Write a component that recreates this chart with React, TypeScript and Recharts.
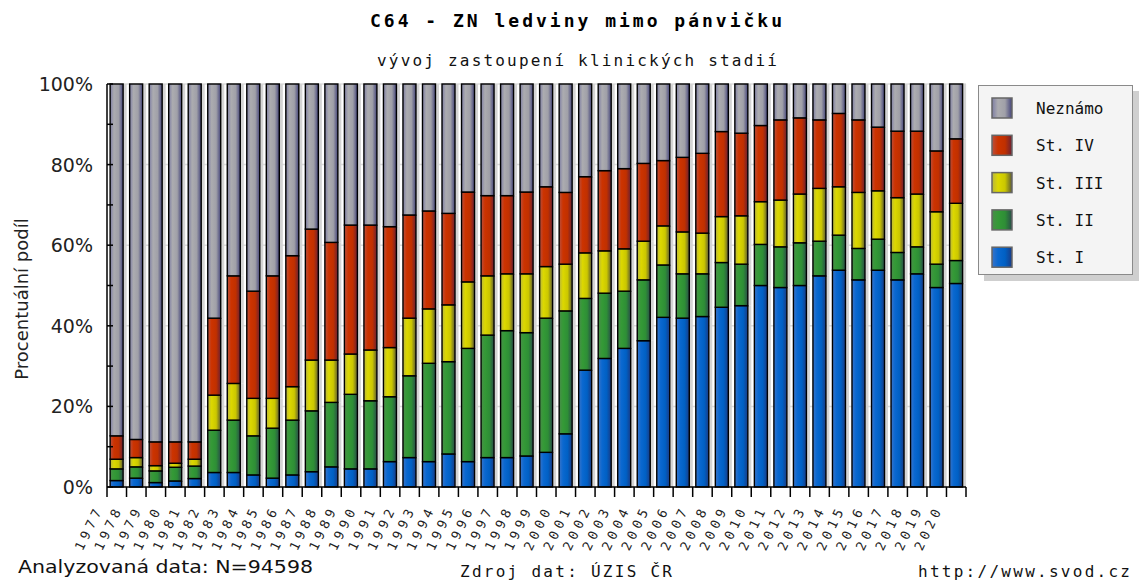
import React from 'react'
import { BarChart, Bar, XAxis, YAxis, CartesianGrid } from 'recharts'

const YEARS = [
  '1977', '1978', '1979', '1980', '1981', '1982', '1983', '1984', '1985', '1986', '1987',
  '1988', '1989', '1990', '1991', '1992', '1993', '1994', '1995', '1996', '1997', '1998',
  '1999', '2000', '2001', '2002', '2003', '2004', '2005', '2006', '2007', '2008', '2009',
  '2010', '2011', '2012', '2013', '2014', '2015', '2016', '2017', '2018', '2019', '2020'
]

const ST_I = [
  1.6, 2.2, 1.1, 1.5, 2.1, 3.6, 3.6, 3.0, 2.2, 3.0, 3.8,
  5.0, 4.5, 4.5, 6.3, 7.3, 6.3, 8.2, 6.3, 7.3, 7.3, 7.7,
  8.6, 13.2, 29.0, 31.9, 34.4, 36.3, 42.1, 41.9, 42.3, 44.6, 45.0,
  50.0, 49.5, 50.0, 52.4, 53.8, 51.4, 53.8, 51.4, 52.9, 49.5, 50.5
]
const ST_II = [
  2.9, 2.8, 2.9, 3.4, 3.1, 10.5, 13.0, 9.7, 12.4, 13.6, 15.1,
  16.0, 18.5, 16.9, 16.1, 20.3, 24.4, 22.9, 28.1, 30.4, 31.5, 30.6,
  33.3, 30.5, 17.8, 16.2, 14.2, 15.1, 13.0, 11.0, 10.6, 11.1, 10.3,
  10.2, 10.1, 10.6, 8.6, 8.7, 7.8, 7.7, 6.8, 6.7, 5.8, 5.7
]
const ST_III = [
  2.4, 2.3, 1.3, 1.0, 1.7, 8.7, 9.1, 9.3, 7.4, 8.3, 12.6,
  10.5, 10.0, 12.6, 12.2, 14.3, 13.5, 14.1, 16.5, 14.7, 14.1, 14.6,
  12.8, 11.6, 11.3, 10.5, 10.5, 9.6, 9.7, 10.4, 10.1, 11.4, 12.0,
  10.6, 11.6, 12.1, 13.1, 12.0, 13.9, 12.0, 13.6, 13.1, 13.0, 14.2
]
const ST_IV = [
  5.8, 4.5, 5.9, 5.3, 4.3, 19.1, 26.7, 26.6, 30.4, 32.5, 32.5,
  29.2, 32.0, 31.0, 30.0, 25.6, 24.3, 22.7, 22.3, 19.9, 19.4, 20.3,
  19.8, 17.8, 18.9, 19.9, 19.9, 19.3, 16.2, 18.5, 19.8, 21.1, 20.5,
  18.9, 19.9, 18.9, 17.0, 18.2, 18.0, 15.8, 16.5, 15.6, 15.1, 16.0
]
const NEZNAMO = [
  87.3, 88.2, 88.8, 88.8, 88.8, 58.1, 47.6, 51.4, 47.6, 42.6, 36.0,
  39.3, 35.0, 35.0, 35.4, 32.5, 31.5, 32.1, 26.8, 27.7, 27.7, 26.8,
  25.5, 26.9, 23.0, 21.5, 21.0, 19.7, 19.0, 18.2, 17.2, 11.8, 12.2,
  10.3, 8.9, 8.4, 8.9, 7.3, 8.9, 10.7, 11.7, 11.7, 16.6, 13.6
]

const Y_TICKS = [0, 10, 20, 30, 40, 50, 60, 70, 80, 90, 100]
const GRID = [20, 40, 60, 80, 100]

const SERIES = [
  { key: 'st1', name: 'St. I', grad: 'gBlue', stops: ['#3a74c8', '#0a68d0', '#0060c4', '#1a3a84'] },
  { key: 'st2', name: 'St. II', grad: 'gGreen', stops: ['#4a8c4a', '#349a36', '#2e8e36', '#2a4c4a'] },
  { key: 'st3', name: 'St. III', grad: 'gYellow', stops: ['#b8b640', '#dcd800', '#cbc700', '#5c5a34'] },
  { key: 'st4', name: 'St. IV', grad: 'gRed', stops: ['#b85040', '#cc3300', '#c03000', '#6a2034'] },
  { key: 'unk', name: 'Neznámo', grad: 'gGray', stops: ['#7e7ea4', '#acacb0', '#a0a0a8', '#44447a'] }
]

const data = YEARS.map((year, i) => ({
  year,
  st1: ST_I[i],
  st2: ST_II[i],
  st3: ST_III[i],
  st4: ST_IV[i],
  unk: NEZNAMO[i]
}))

const PLOT_LEFT = 107
const PLOT_RIGHT = 966
const PLOT_BOTTOM = 487
const HALF_SLOT = (PLOT_RIGHT - PLOT_LEFT) / YEARS.length / 2

const mono = '"DejaVu Sans Mono", monospace'
const sans = '"DejaVu Sans", Verdana, sans-serif'

const BarShape = (props: any) => {
  const { x, y, width, height, fill } = props
  if (!height || height <= 0) return null
  return (
    <g>
      <rect x={x + width + 0.5} y={y} width={3} height={height} fill="#d4d4d4" />
      <rect x={x} y={y} width={width} height={height} fill={fill} stroke="#000" strokeWidth={1.4} />
    </g>
  )
}

const YTick = (props: any) => {
  const { y, payload } = props
  const v = payload.value
  const major = v % 20 === 0
  return (
    <g>
      <line x1={PLOT_LEFT} x2={PLOT_LEFT + 6} y1={y} y2={y} stroke="#000" strokeWidth={1.5} />
      {major && (
        <text x={93} y={y + 7} textAnchor="end" fontSize={19} fontFamily={sans} fill="#222">
          {v}%
        </text>
      )}
    </g>
  )
}

const XTick = (props: any) => {
  const { x, payload, index } = props
  const tx = x - 15
  const ty = 512
  return (
    <g>
      <line x1={x - HALF_SLOT} x2={x - HALF_SLOT} y1={PLOT_BOTTOM} y2={PLOT_BOTTOM + 10} stroke="#000" strokeWidth={1.5} />
      {index === YEARS.length - 1 && (
        <line x1={x + HALF_SLOT} x2={x + HALF_SLOT} y1={PLOT_BOTTOM} y2={PLOT_BOTTOM + 10} stroke="#000" strokeWidth={1.5} />
      )}
      <text
        transform={`translate(${tx},${ty}) rotate(-64)`}
        textAnchor="end"
        fontSize={13}
        fontFamily={mono}
        fill="#222"
        textLength={44}
        lengthAdjust="spacing"
      >
        {payload.value}
      </text>
    </g>
  )
}

const LEGEND_ORDER = ['unk', 'st4', 'st3', 'st2', 'st1']

export default function App() {
  return (
    <div style={{ position: 'relative', width: 1139, height: 582, background: '#fff' }}>
      <style>{'body{margin:0}'}</style>
      <BarChart
        width={1139}
        height={582}
        data={data}
        margin={{ top: 84, right: 173, bottom: 0, left: 0 }}
        barCategoryGap="16%"
      >
        <defs>
          {SERIES.map(s => (
            <linearGradient key={s.grad} id={s.grad} x1="0" y1="0" x2="1" y2="0">
              <stop offset="0" stopColor={s.stops[0]} />
              <stop offset="0.3" stopColor={s.stops[1]} />
              <stop offset="0.65" stopColor={s.stops[2]} />
              <stop offset="1" stopColor={s.stops[3]} />
            </linearGradient>
          ))}
        </defs>
        <CartesianGrid vertical={false} horizontalValues={GRID} stroke="#dcdcdc" strokeWidth={1.5} />
        <XAxis
          dataKey="year"
          interval={0}
          height={95}
          tickLine={false}
          axisLine={{ stroke: '#000', strokeWidth: 1.5 }}
          tick={<XTick />}
        />
        <YAxis
          type="number"
          domain={[0, 100]}
          ticks={Y_TICKS}
          width={107}
          tickLine={false}
          tickSize={0}
          axisLine={{ stroke: '#000', strokeWidth: 1.5 }}
          tick={<YTick />}
        />
        {SERIES.map(s => (
          <Bar
            key={s.key}
            dataKey={s.key}
            name={s.name}
            stackId="a"
            fill={`url(#${s.grad})`}
            shape={<BarShape />}
            isAnimationActive={false}
          />
        ))}
      </BarChart>

      <svg
        width={1139}
        height={582}
        style={{ position: 'absolute', left: 0, top: 0, pointerEvents: 'none' }}
      >
        <text x={576} y={27} textAnchor="middle" fontFamily={mono} fontWeight="bold" fontSize={18} fill="#000"
          textLength={412} lengthAdjust="spacing">
          C64 - ZN ledviny mimo pánvičku
        </text>
        <text x={577} y={66} textAnchor="middle" fontFamily={mono} fontSize={16} fill="#111"
          textLength={400} lengthAdjust="spacing">
          vývoj zastoupení klinických stadií
        </text>
        <text transform="translate(28,299) rotate(-90)" textAnchor="middle" fontFamily={sans} fontSize={18} fill="#222">
          Procentuální podíl
        </text>
        <text x={18} y={573} fontFamily={sans} fontSize={17} fill="#111" textLength={295} lengthAdjust="spacingAndGlyphs">
          Analyzovaná data: N=94598
        </text>
        <text x={460} y={577} fontFamily={mono} fontSize={16} fill="#111" textLength={212} lengthAdjust="spacing">
          Zdroj dat: ÚZIS ČR
        </text>
        <text x={1130} y={577} textAnchor="end" fontFamily={mono} fontSize={16} fill="#111" textLength={212} lengthAdjust="spacing">
          http://www.svod.cz
        </text>
      </svg>

      <div style={{ position: 'absolute', left: 984, top: 91, width: 155, height: 190, background: '#cfcfcf' }} />
      <div
        style={{
          position: 'absolute',
          left: 978,
          top: 85,
          width: 153,
          height: 188,
          background: '#f4f4f4',
          border: '1px solid #8a8a8a'
        }}
      >
        <svg width={153} height={188}>
          {LEGEND_ORDER.map((k, i) => {
            const s = SERIES.find(ss => ss.key === k)!
            const cy = 22 + i * 37.3
            return (
              <g key={k}>
                <rect x={13} y={cy - 10} width={20} height={20} fill={`url(#${s.grad})`} stroke="#666" strokeWidth={1.5} />
                <text x={57} y={cy + 6} fontFamily={mono} fontSize={16} fill="#111">
                  {s.name}
                </text>
              </g>
            )
          })}
        </svg>
      </div>
    </div>
  )
}
